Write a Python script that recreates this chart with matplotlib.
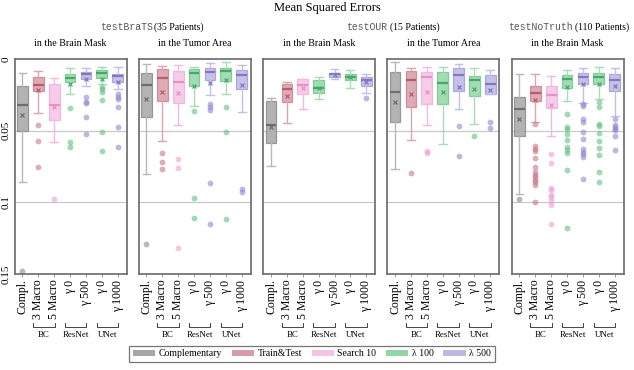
import matplotlib
matplotlib.use("Agg")
import matplotlib.pyplot as plt
from matplotlib.patches import Patch
from matplotlib.transforms import blended_transform_factory

# ---------------- data ----------------
box_labels = ["Compl.", "3 Macro", "5 Macro", "γ 0", "γ 500", "γ 0", "γ 1000"]
box_color_idx = [0, 1, 2, 3, 4, 3, 4]
group_names = ["BC", "ResNet", "UNet"]
group_first = [2, 4, 6]
group_last = [3, 5, 7]
legend_labels = ["Complementary", "Train&Test", "Search 10", "λ 100", "λ 500"]
panel_titles = ["in the Brain Mask", "in the Tumor Area", "in the Brain Mask",
                "in the Tumor Area", "in the Brain Mask"]
set_names = ["testBraTS", "testOUR", "testNoTruth"]
set_counts = ["(35 Patients)", "(15 Patients)", "(110 Patients)"]

# panel 1: testBraTS, brain mask
p1_wlo = [0.0100, 0.0084, 0.0135, 0.0065, 0.0060, 0.0056, 0.0056]
p1_q1 = [0.0189, 0.0124, 0.0177, 0.0107, 0.0093, 0.0079, 0.0103]
p1_med = [0.0322, 0.0182, 0.0320, 0.0135, 0.0107, 0.0100, 0.0119]
p1_q3 = [0.0500, 0.0224, 0.0426, 0.0163, 0.0142, 0.0130, 0.0158]
p1_whi = [0.0855, 0.0380, 0.0580, 0.0247, 0.0189, 0.0177, 0.0212]
p1_mean = [0.0390, 0.0219, 0.0333, 0.0172, 0.0140, 0.0140, 0.0158]
p1_fliers = [[0.148], [0.046, 0.057, 0.075], [0.098], [0.0345, 0.0578, 0.0615],
             [0.0268, 0.030, 0.031, 0.0408, 0.0522],
             [0.0198, 0.0212, 0.0228, 0.0287, 0.0508, 0.0643],
             [0.0247, 0.0263, 0.028, 0.0336, 0.0475, 0.0613]]

# panel 2: testBraTS, tumor area
p2_wlo = [0.0037, 0.0047, 0.0042, 0.0054, 0.0030, 0.0023, 0.0042]
p2_q1 = [0.0096, 0.0072, 0.0084, 0.0072, 0.0065, 0.0061, 0.0077]
p2_med = [0.0182, 0.0135, 0.0163, 0.0096, 0.0089, 0.0082, 0.0112]
p2_q3 = [0.0408, 0.0291, 0.0305, 0.0186, 0.0147, 0.0154, 0.0212]
p2_whi = [0.0800, 0.0570, 0.0457, 0.0326, 0.0252, 0.0245, 0.0373]
p2_mean = [0.0277, 0.0228, 0.0240, 0.0189, 0.0170, 0.0147, 0.0182]
p2_fliers = [[0.129], [0.0657, 0.072, 0.0769], [0.0697, 0.0757, 0.132],
             [0.0363, 0.097, 0.111], [0.0317, 0.0338, 0.0356, 0.0865, 0.115],
             [0.0333, 0.051, 0.1116], [0.091, 0.093]]

# panel 3: testOUR, brain mask
p3_wlo = [0.0275, 0.0158, 0.0140, 0.0123, 0.0072, 0.0077, 0.0107]
p3_q1 = [0.0294, 0.0177, 0.0142, 0.0147, 0.0096, 0.0105, 0.0128]
p3_med = [0.0457, 0.0212, 0.0182, 0.0205, 0.0107, 0.0123, 0.0144]
p3_q3 = [0.0585, 0.0298, 0.0245, 0.0240, 0.0126, 0.0149, 0.0186]
p3_whi = [0.0748, 0.0445, 0.0352, 0.0282, 0.0142, 0.0205, 0.0235]
p3_mean = [0.0473, 0.0259, 0.0205, 0.0200, 0.0112, 0.0128, 0.0163]
p3_fliers = [[], [], [], [], [], [], [0.0275]]

# panel 4: testOUR, tumor area
p4_wlo = [0.0019, 0.0065, 0.0054, 0.0054, 0.0037, 0.0065, 0.0077]
p4_q1 = [0.0093, 0.0084, 0.0093, 0.0093, 0.0065, 0.0117, 0.0112]
p4_med = [0.0228, 0.0147, 0.0123, 0.0170, 0.0112, 0.0147, 0.0175]
p4_q3 = [0.0438, 0.0338, 0.0315, 0.0315, 0.0224, 0.0256, 0.0245]
p4_whi = [0.0764, 0.0562, 0.0457, 0.0596, 0.0352, 0.0450, 0.0245]
p4_mean = [0.0298, 0.0245, 0.0228, 0.0228, 0.0193, 0.0210, 0.0217]
p4_fliers = [[], [0.0797], [0.0643, 0.0657], [], [0.0466, 0.0678], [0.0534],
             [0.044, 0.048]]

# panel 5: testNoTruth, brain mask
p5_wlo = [0.0107, 0.0107, 0.0117, 0.0077, 0.0065, 0.0058, 0.0065]
p5_q1 = [0.0268, 0.0186, 0.0189, 0.0112, 0.0100, 0.0100, 0.0107]
p5_med = [0.0352, 0.0235, 0.0252, 0.0140, 0.0126, 0.0126, 0.0147]
p5_q3 = [0.0538, 0.0291, 0.0345, 0.0200, 0.0177, 0.0177, 0.0224]
p5_whi = [0.0939, 0.0438, 0.0540, 0.0294, 0.0305, 0.0282, 0.0398]
p5_mean = [0.0420, 0.0287, 0.0322, 0.0196, 0.0175, 0.0177, 0.0189]
p5_fliers = [[0.0974],
             [0.0454, 0.0606, 0.0625, 0.0643, 0.069, 0.0753, 0.0788, 0.0806,
              0.0823, 0.0841, 0.0858, 0.0876, 0.100],
             [0.0666, 0.0725, 0.090, 0.0917, 0.0952, 0.0964, 0.099, 0.102, 0.115],
             [0.0387, 0.0473, 0.049, 0.052, 0.0562, 0.0613, 0.0634, 0.0655,
              0.0776, 0.118],
             [0.0317, 0.0328, 0.042, 0.0438, 0.0512, 0.056, 0.063, 0.0648,
              0.0665, 0.0685, 0.0834],
             [0.0303, 0.0338, 0.0454, 0.0468, 0.0515, 0.0573, 0.0624, 0.067,
              0.0788, 0.0857],
             [0.042, 0.046, 0.0473, 0.0485, 0.0496, 0.0536, 0.0636]]

panels = [
    (p1_wlo, p1_q1, p1_med, p1_q3, p1_whi, p1_mean, p1_fliers),
    (p2_wlo, p2_q1, p2_med, p2_q3, p2_whi, p2_mean, p2_fliers),
    (p3_wlo, p3_q1, p3_med, p3_q3, p3_whi, p3_mean, p3_fliers),
    (p4_wlo, p4_q1, p4_med, p4_q3, p4_whi, p4_mean, p4_fliers),
    (p5_wlo, p5_q1, p5_med, p5_q3, p5_whi, p5_mean, p5_fliers),
]

# ---------------- style ----------------
face_cols = ["#a6a6a6", "#d89ca8", "#f5c4e4", "#92d6a8", "#bcb8e2"]
edge_cols = ["#8c8c8c", "#c98394", "#eeb0d8", "#74c690", "#a29dd6"]
med_cols = ["#6e6e6e", "#b85c72", "#e98fca", "#45aa66", "#7f79c4"]
whisk_cols = ["#b8b8b8", "#dba6b1", "#f3b9de", "#a6dcb8", "#c3bfe6"]
flier_cols = ["#8a8a8a", "#c8788a", "#ef9fd2", "#62c082", "#908ad0"]

SERIF = "Liberation Serif"
MONO = "Liberation Mono"
plt.rcParams["font.family"] = [SERIF, "DejaVu Serif"]

W, H = 634, 370
fig = plt.figure(figsize=(W / 100, H / 100), dpi=100)

ax_lefts = [14.7, 138.7, 263.3, 387.3, 511.7]
ax_w, ax_top, ax_bot = 112.0, 59.0, 274.0

def fx(px):
    return px / W

def fy(py):
    return 1 - py / H

axes = []
for pi, (left, data) in enumerate(zip(ax_lefts, panels)):
    ax = fig.add_axes([fx(left), fy(ax_bot), ax_w / W, (ax_bot - ax_top) / H])
    axes.append(ax)
    wlo, q1, med, q3, whi, mean, fliers = data
    for i in range(7):
        ci = box_color_idx[i]
        st = [dict(whislo=wlo[i], q1=q1[i], med=med[i], q3=q3[i], whishi=whi[i],
                   mean=mean[i], fliers=fliers[i], label="")]
        ax.bxp(st, positions=[i + 1], widths=0.68, patch_artist=True,
               showmeans=True, showfliers=True,
               boxprops=dict(facecolor=face_cols[ci], edgecolor=edge_cols[ci],
                             linewidth=0.9, alpha=0.85),
               medianprops=dict(color=med_cols[ci], linewidth=1.6),
               whiskerprops=dict(color=whisk_cols[ci], linewidth=1.0),
               capprops=dict(color=whisk_cols[ci], linewidth=1.0),
               capwidths=0.5,
               meanprops=dict(marker="x", markersize=3.5, markeredgecolor=med_cols[ci],
                              markeredgewidth=0.9, linestyle="none"),
               flierprops=dict(marker="o", markersize=4.2, markerfacecolor=flier_cols[ci],
                               markeredgecolor="none", alpha=0.6, linestyle="none"))
    for gv in (0.05, 0.1):
        ax.axhline(gv, color="#c8c8c8", linewidth=0.9, zorder=0)
    ax.set_xlim(0.51, 7.57)
    ax.set_ylim(0.15, 0.0)
    for sp in ax.spines.values():
        sp.set_color("#6a6a6a")
        sp.set_linewidth(1.2)
    ax.set_xticks(range(1, 8))
    ax.set_xticklabels(box_labels, rotation=90, fontsize=8.5)
    ax.tick_params(axis="x", length=2, width=0.6, color="#888888", pad=2)
    if pi == 0:
        ax.set_yticks([0, 0.05, 0.1, 0.15])
        ax.set_yticklabels(["0", "0.05", "0.1", "0.15"], rotation=90, va="center",
                           fontsize=8)
        ax.tick_params(axis="y", length=0, pad=3)
    else:
        ax.set_yticks([])
    # brackets under the x labels
    tr = blended_transform_factory(ax.transData, ax.transAxes)
    for name, a, b in zip(group_names, group_first, group_last):
        x0, x1 = a - 0.33, b + 0.02
        ax.plot([x0, x0, x1, x1], [-0.226, -0.245, -0.245, -0.226], transform=tr,
                color="#444444", linewidth=0.7, clip_on=False)
        ax.text((x0 + x1) / 2, -0.285, name, transform=tr, ha="center", va="center",
                fontsize=6.4)
    # panel subtitle
    fig.text(fx(left + ax_w / 2), fy(43.5), panel_titles[pi], ha="center",
             va="center", fontsize=7.2)

# main title
fig.text(fx(327), fy(8.5), "Mean Squared Errors", ha="center", va="center",
         fontsize=9)

# set titles (mono name + serif count)
split_x = [152.5, 387.5, 573.0]
for name, cnt, sx in zip(set_names, set_counts, split_x):
    fig.text(fx(sx), fy(27.5), name, ha="right", va="center", fontsize=7,
             family=MONO, color="#555555")
    fig.text(fx(sx + 2), fy(27.5), cnt, ha="left", va="center", fontsize=7)

# legend
handles = [Patch(facecolor=face_cols[k], edgecolor="none") for k in range(5)]
leg = fig.legend(handles, legend_labels, loc="center", ncol=5,
                 bbox_to_anchor=(fx(312), fy(354)), fontsize=7, frameon=True,
                 fancybox=False, handlelength=2.3, handleheight=0.55,
                 handletextpad=0.35, columnspacing=1.0, borderpad=0.35)
leg.get_frame().set_edgecolor("#555555")
leg.get_frame().set_linewidth(0.9)

fig.savefig("out.png", dpi=100)
